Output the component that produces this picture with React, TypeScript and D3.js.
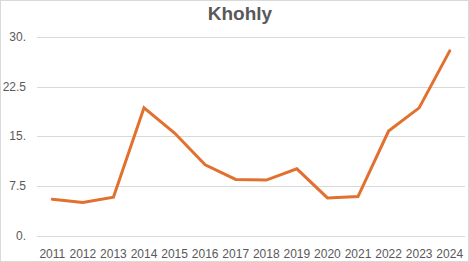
import React from "react";
import * as d3 from "d3";

const years = ["2011","2012","2013","2014","2015","2016","2017","2018","2019","2020","2021","2022","2023","2024"];
const values = [5.5, 5.0, 5.8, 19.3, 15.5, 10.7, 8.5, 8.4, 10.1, 5.7, 5.9, 15.8, 19.3, 27.9];
const yTicks = [0, 7.5, 15, 22.5, 30];
const yTickLabels = ["0.", "7.5", "15.", "22.5", "30."];
const title = "Khohly";

const W = 469, H = 262;
const left = 37, right = 465, top = 37, bottom = 235.7;

export default function App() {
  const x = d3.scaleBand<string>().domain(years).range([left, right]);
  const y = d3.scaleLinear().domain([0, 30]).range([bottom, top]);
  const line = d3.line<number>()
    .x((_, i) => (x(years[i]) as number) + x.bandwidth() / 2)
    .y((d) => y(d));
  const font = "'Liberation Sans', Arial, sans-serif";
  return (
    <svg width={W} height={H} style={{ position: "absolute", left: 0, top: 0, background: "#fff" }}>
      <rect x={0.5} y={0.5} width={W - 1} height={H - 1} fill="#fff" stroke="#d9d9d9" />
      <text x={240} y={20} textAnchor="middle" fontFamily={font} fontWeight="bold" fontSize={19} fill="#595959">{title}</text>
      {yTicks.map((t, i) => (
        <g key={t}>
          <line x1={left} x2={right} y1={Math.round(y(t)) + 0.5} y2={Math.round(y(t)) + 0.5} stroke="#d9d9d9" />
          <text x={26} y={y(t) + 4} textAnchor="end" fontFamily={font} fontSize={12} fill="#595959">{yTickLabels[i]}</text>
        </g>
      ))}
      {years.map((yr) => (
        <text key={yr} x={(x(yr) as number) + x.bandwidth() / 2} y={257.5} textAnchor="middle" fontFamily={font} fontSize={12} fill="#595959">{yr}</text>
      ))}
      <path d={line(values) || ""} fill="none" stroke="#E2702F" strokeWidth={3} strokeLinejoin="miter" strokeLinecap="round" />
    </svg>
  );
}
